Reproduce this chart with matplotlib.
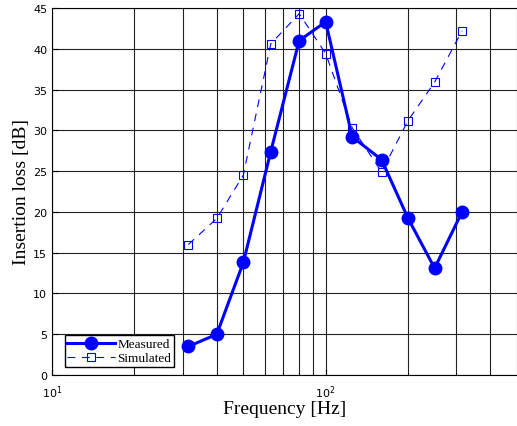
import matplotlib.pyplot as plt

freq = [31.5, 40, 50, 63, 80, 100, 125, 160, 200, 250, 315]
measured = [3.5, 5.0, 13.8, 27.4, 41.0, 43.3, 29.2, 26.4, 19.2, 13.1, 20.0]
simulated = [16.0, 19.2, 24.5, 40.6, 44.3, 39.4, 30.3, 24.9, 31.2, 35.9, 42.2]

fig = plt.figure(figsize=(5.17, 4.27), dpi=100)
ax = fig.add_axes([0.1006, 0.1194, 0.8994, 0.8596])

ax.plot(freq, measured, '-o', color='blue', lw=2.2, ms=9, label='Measured')
ax.plot(freq, simulated, '--s', color='blue', lw=0.8, ms=5.5, mfc='none', mew=0.8,
        dashes=(7, 6), label='Simulated')

ax.set_xscale('log')
ax.set_xlim(10, 500)
ax.set_ylim(0, 45)
ax.set_yticks(range(0, 46, 5))
ax.grid(True, which='major', axis='both', color='#222222', lw=0.8)
ax.grid(True, which='minor', axis='x', color='#222222', lw=0.8)
ax.spines['right'].set_visible(False)
ax.tick_params(labelsize=8, direction='in', length=4)
ax.tick_params(which='minor', length=2, direction='in')
ax.xaxis.set_tick_params(pad=6)

ax.set_xlabel('Frequency [Hz]', family='Liberation Serif', fontsize=14, labelpad=0)
ax.set_ylabel('Insertion loss [dB]', family='Liberation Serif', fontsize=14, labelpad=2)

leg = ax.legend(loc='lower left', bbox_to_anchor=(0.01, 0.0), prop={'family': 'Liberation Serif', 'size': 9.5},
                fancybox=False, edgecolor='black', framealpha=1, borderpad=0.2,
                labelspacing=0.15, handlelength=3.6, handletextpad=0.2, borderaxespad=0.6)
leg.get_frame().set_linewidth(1.0)

fig.savefig('out.png', dpi=100)
